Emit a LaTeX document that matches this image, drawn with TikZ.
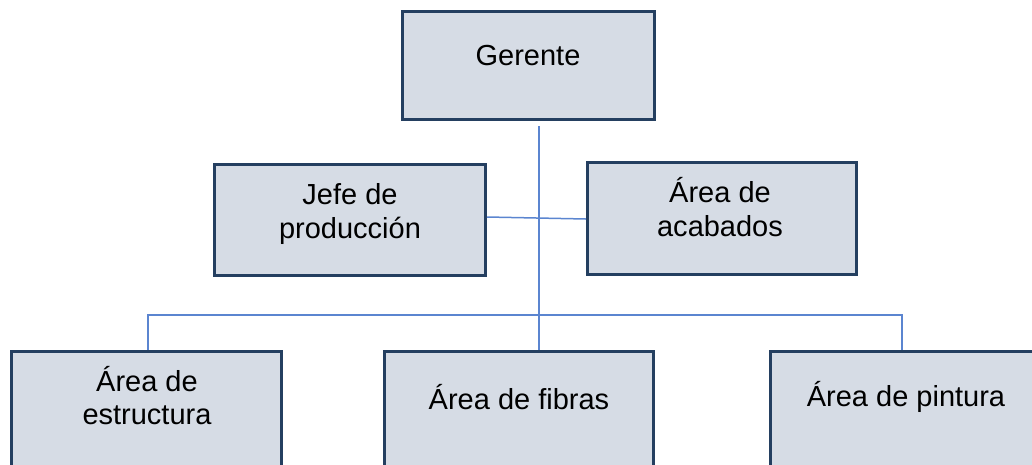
\documentclass[tikz,border=0pt]{standalone}
\usepackage{fontspec}
\setmainfont{Liberation Sans}
\definecolor{boxfill}{HTML}{D6DCE5}
\definecolor{boxline}{HTML}{243F60}
\definecolor{conn}{HTML}{5B85D0}
\begin{document}
\begin{tikzpicture}[x=1pt,y=-1pt,
  box/.style={draw=boxline, fill=boxfill, line width=3pt, inner sep=0pt},
  txt/.style={inner sep=0pt, anchor=base, font=\fontsize{29}{35}\selectfont, text=black},
  link/.style={draw=conn, line width=1.5pt}]
\path[use as bounding box] (0,0) rectangle (1032,464);
\clip (0,0) rectangle (1032,464);
% boxes
\node[box, minimum width=252pt, minimum height=108pt] (g) at (528.5,65.5) {};
\node[box, minimum width=271pt, minimum height=111pt] (jefe) at (350,220) {};
\node[box, minimum width=269pt, minimum height=112pt] (acab) at (722,218.5) {};
\node[box, minimum width=270pt, minimum height=130pt] (est) at (146.5,416) {};
\node[box, minimum width=269pt, minimum height=130pt] (fib) at (519,416) {};
\node[box, minimum width=274pt, minimum height=130pt] (pin) at (907,416) {};
% texts
\node[txt] (tg) at (528,65) {Gerente};
\node[txt] (tj1) at (350,204) {Jefe de};
\node[txt] (tj2) at (350,238) {producción};
\node[txt] (ta1) at (720,202) {Área de};
\node[txt] (ta2) at (720,236) {acabados};
\node[txt] (te1) at (147,391) {Área de};
\node[txt] (te2) at (147,424) {estructura};
\node[txt] (tf) at (519,409) {Área de fibras};
\node[txt] (tp) at (906,406) {Área de pintura};
% connectors
\coordinate (bl) at (148,315);
\coordinate (br) at (902,315);
\draw[link] ([xshift=10.5pt,yshift=-5pt]g.south) -- ([xshift=10.5pt]g.south |- fib.north);
\draw[link] ([yshift=3pt]jefe.east) -- ([yshift=-0.5pt]acab.west);
\draw[link] (est.north -| bl) -- (bl) -- (br) -- (br |- pin.north);
\end{tikzpicture}
\end{document}
